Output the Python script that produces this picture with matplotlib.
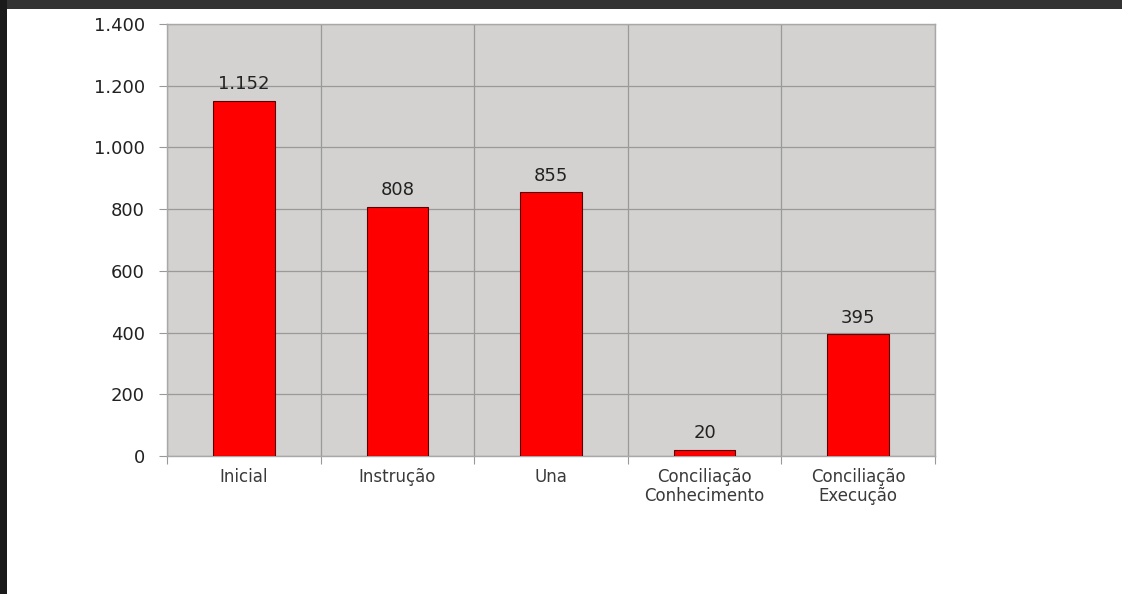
import matplotlib
matplotlib.use("Agg")
import matplotlib.pyplot as plt
from matplotlib.patches import Rectangle
from matplotlib.ticker import FixedLocator, NullFormatter, FuncFormatter

categories = ["Inicial", "Instrução", "Una", "Conciliação\nConhecimento", "Conciliação\nExecução"]
values = [1152, 808, 855, 20, 395]
value_labels = ["1.152", "808", "855", "20", "395"]
yticks = [0, 200, 400, 600, 800, 1000, 1200, 1400]

plt.rcParams['font.family'] = ['DejaVu Sans']

fig = plt.figure(figsize=(11.22, 5.94), dpi=100)
fig.patch.set_facecolor("white")

# dark frame (top and left)
fig.patches.append(Rectangle((0, 1 - 9/594), 1, 9/594, transform=fig.transFigure,
                             facecolor="#333333", edgecolor="none", zorder=0))
fig.patches.append(Rectangle((0, 0), 7/1122, 1, transform=fig.transFigure,
                             facecolor="#1a1a1a", edgecolor="none", zorder=0))

ax = fig.add_axes([167/1122, (594-456)/594, (935-167)/1122, (456-24)/594])
ax.set_facecolor("#d3d2d0")

x = list(range(len(categories)))
ax.bar(x, values, width=0.4, color="#ff0000", edgecolor="#5a0000", linewidth=0.8, zorder=3)

for xi, v, lab in zip(x, values, value_labels):
    ax.text(xi, v + 24, lab, ha="center", va="bottom", fontsize=13, color="#222222", zorder=4)

ax.set_xlim(-0.5, len(categories) - 0.5)
ax.set_ylim(0, 1400)
ax.set_yticks(yticks)
ax.yaxis.set_major_formatter(FuncFormatter(lambda v, p: f"{int(v):,}".replace(",", ".")))

# category boundaries as major ticks/grid, labels at centers as minor ticks
ax.xaxis.set_major_locator(FixedLocator([i + 0.5 for i in range(-1, len(categories))]))
ax.xaxis.set_major_formatter(NullFormatter())
ax.xaxis.set_minor_locator(FixedLocator(x))
ax.set_xticklabels(categories, minor=True, linespacing=1.05)
ax.tick_params(axis="x", which="minor", length=0, labelsize=12, labelcolor="#3a3a3a", pad=9)
ax.tick_params(axis="x", which="major", length=6, color="#999999", direction="out")
ax.tick_params(axis="y", length=6, color="#999999", labelsize=13, labelcolor="#222222", pad=10)

ax.grid(True, which="major", color="#9a9a9a", linewidth=0.9, zorder=1)
ax.set_axisbelow(True)
for s in ax.spines.values():
    s.set_color("#a8a8a8")
    s.set_linewidth(1.0)

fig.savefig("out.png", dpi=100)
